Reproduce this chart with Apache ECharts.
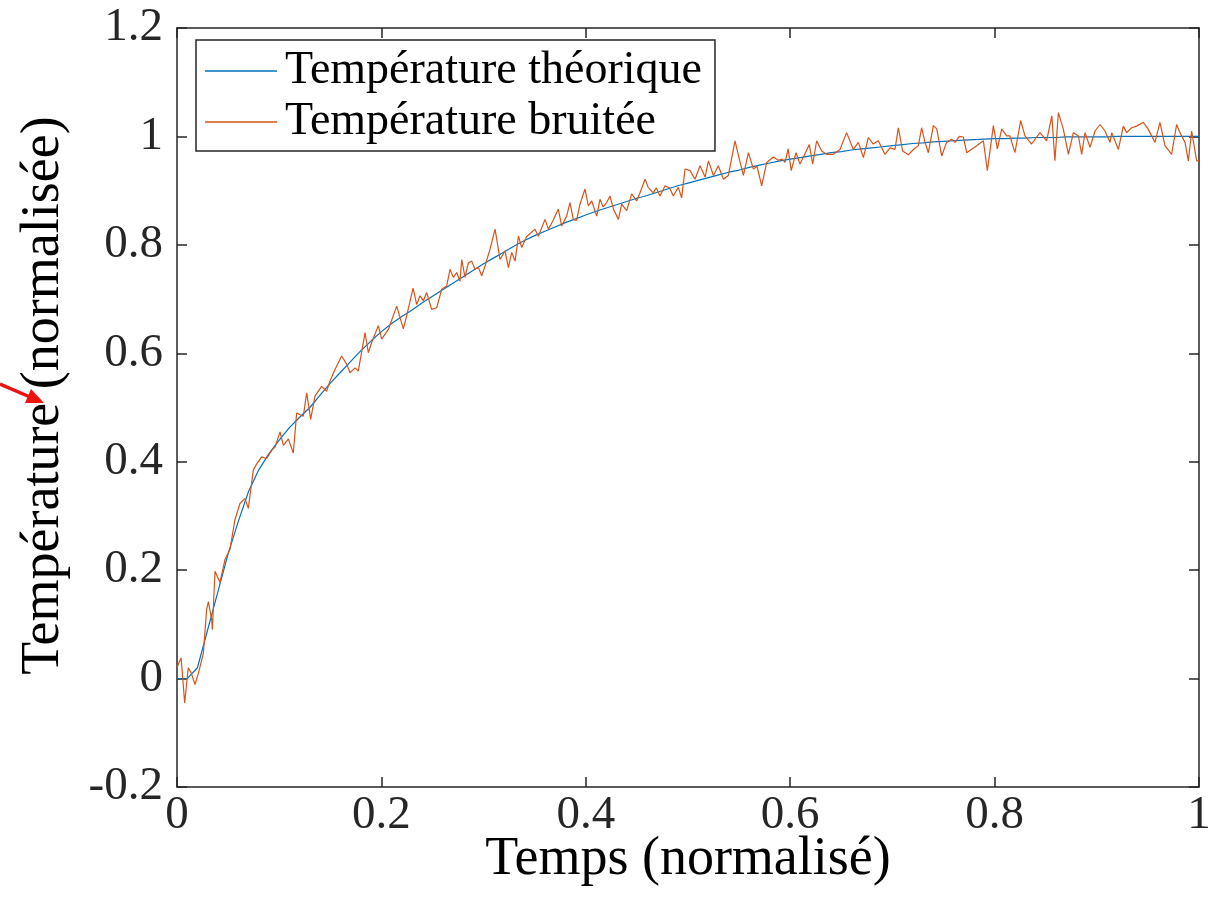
<!DOCTYPE html>
<html>
<head>
<meta charset="utf-8">
<script src="https://cdn.jsdelivr.net/npm/echarts@6/dist/echarts.min.js"></script>
<style>
html,body{margin:0;padding:0;background:#ffffff;}
#chart{width:1216px;height:914px;}
</style>
</head>
<body>
<div id="chart"></div>
<script>
// ---------- data ----------
const seriesNames = ['Température théorique', 'Température bruitée'];
const xAxisTitle = 'Temps (normalisé)';
const yAxisTitle = 'Température (normalisée)';
const xTickLabels = ['0', '0.2', '0.4', '0.6', '0.8', '1'];
const yTickLabels = ['-0.2', '0', '0.2', '0.4', '0.6', '0.8', '1', '1.2'];

const theoryTime = [0,0.01,0.02,0.03,0.04,0.05,0.06,0.07,0.08,0.09,0.10,0.11,0.12,0.13,0.14,0.15,0.16,0.17,0.18,0.19,0.20,
  0.21,0.22,0.23,0.24,0.25,0.26,0.27,0.28,0.29,0.30,0.31,0.32,0.33,0.34,0.35,0.36,0.37,0.38,0.39,0.40,
  0.41,0.42,0.43,0.44,0.45,0.46,0.47,0.48,0.49,0.50,0.51,0.52,0.53,0.54,0.55,0.56,0.57,0.58,0.59,0.60,
  0.61,0.62,0.63,0.64,0.65,0.66,0.67,0.68,0.69,0.70,0.71,0.72,0.73,0.74,0.75,0.76,0.77,0.78,0.79,0.80,
  0.81,0.82,0.83,0.84,0.85,0.86,0.87,0.88,0.89,0.90,0.91,0.92,0.93,0.94,0.95,0.96,0.97,0.98,0.99,1.00];
const theoryTemp = [0,0,0.02,0.09,0.16,0.23,0.29,0.345,0.385,0.415,0.44,0.463,0.482,0.50,0.523,0.545,0.565,0.585,0.605,0.623,0.64,
  0.655,0.668,0.68,0.693,0.705,0.717,0.729,0.741,0.753,0.765,0.776,0.787,0.798,0.808,0.817,0.825,0.833,0.841,0.848,0.855,
  0.862,0.868,0.874,0.880,0.886,0.891,0.897,0.903,0.909,0.914,0.919,0.924,0.929,0.934,0.938,0.943,0.947,0.951,0.955,0.958,
  0.961,0.964,0.967,0.970,0.972,0.975,0.977,0.979,0.981,0.983,0.985,0.987,0.988,0.990,0.991,0.992,0.993,0.994,0.995,0.996,
  0.996,0.997,0.997,0.998,0.998,0.998,0.999,0.999,0.999,0.999,0.999,1.0,1.0,1.0,1.0,1.0,1.0,1.0,1.0,1.0];

const noisyTime = [0,0.002,0.004,0.0075,0.011,0.014,0.0176,0.021,0.0258,0.029,0.0307,0.034,0.0346,0.0372,0.042,0.047,0.0518,0.0567,0.0616,0.0665,
  0.0698,0.0747,0.078,0.0828,0.0877,0.0926,0.0959,0.1008,0.1041,0.109,0.1138,0.1171,0.1236,0.1269,0.1308,0.135,0.1415,0.1464,0.1497,0.1546,
  0.1611,0.166,0.1693,0.1742,0.1774,0.184,0.1872,0.1905,0.197,0.2003,0.2068,0.215,0.2215,0.2247,0.231,0.2345,0.2378,0.241,0.2443,0.2492,
  0.2541,0.259,0.2639,0.2671,0.2704,0.2737,0.2769,0.2786,0.2818,0.2851,0.2884,0.2916,0.2949,0.2982,0.3014,0.3063,0.3112,0.3161,0.321,0.3243,
  0.3275,0.3308,0.3341,0.3373,0.342,0.3503,0.3536,0.3601,0.3634,0.368,0.3731,0.3764,0.3813,0.3845,0.3878,0.391,0.3943,0.3992,0.4025,0.4058,
  0.4107,0.4139,0.417,0.4204,0.4237,0.427,0.4319,0.4351,0.44,0.4449,0.4498,0.453,0.458,0.461,0.466,0.469,0.4726,0.4775,0.482,0.4856,
  0.4905,0.4938,0.4971,0.502,0.5069,0.5118,0.5167,0.52,0.5249,0.5297,0.5346,0.5395,0.546,0.551,0.5542,0.5591,0.564,0.5675,0.5721,0.577,
  0.5835,0.5884,0.592,0.595,0.598,0.601,0.6057,0.6096,0.6145,0.6187,0.622,0.6259,0.6308,0.6357,0.6422,0.6487,0.6552,0.6618,0.6667,0.6716,
  0.6765,0.6813,0.6862,0.6927,0.6976,0.7025,0.7058,0.71,0.7156,0.72,0.7254,0.7286,0.7319,0.7352,0.7401,0.7434,0.7482,0.753,0.758,0.7613,
  0.7655,0.7694,0.7727,0.7825,0.789,0.7929,0.7988,0.8027,0.807,0.8118,0.815,0.8199,0.8255,0.8297,0.8362,0.8444,0.8509,0.856,0.859,0.8624,
  0.8673,0.8722,0.8771,0.882,0.8852,0.8885,0.8934,0.8983,0.9032,0.908,0.913,0.9146,0.9211,0.926,0.9292,0.9341,0.939,0.9455,0.9504,0.9569,
  0.9618,0.9667,0.9732,0.9781,0.9814,0.9863,0.9896,0.9928,0.9977,1.0];
const noisyTemp = [0.02,0.03,0.038,-0.045,0.02,0.01,-0.011,0.01,0.047,0.127,0.142,0.108,0.09,0.198,0.177,0.22,0.238,0.293,0.323,0.332,
  0.314,0.385,0.396,0.409,0.406,0.421,0.427,0.455,0.43,0.442,0.416,0.49,0.484,0.527,0.478,0.521,0.539,0.530,0.549,0.570,
  0.595,0.580,0.564,0.573,0.567,0.638,0.601,0.620,0.651,0.626,0.644,0.687,0.645,0.669,0.72,0.690,0.706,0.697,0.712,0.681,
  0.684,0.718,0.724,0.755,0.740,0.749,0.733,0.773,0.740,0.767,0.770,0.755,0.758,0.743,0.761,0.792,0.829,0.773,0.789,0.758,
  0.786,0.770,0.816,0.795,0.815,0.829,0.816,0.847,0.829,0.845,0.866,0.835,0.853,0.878,0.847,0.845,0.875,0.903,0.872,0.881,
  0.853,0.884,0.870,0.878,0.890,0.866,0.847,0.875,0.863,0.894,0.881,0.896,0.921,0.906,0.896,0.905,0.890,0.909,0.905,0.890,
  0.906,0.887,0.940,0.937,0.921,0.946,0.925,0.955,0.928,0.946,0.921,0.928,0.992,0.952,0.928,0.970,0.940,0.945,0.909,0.952,
  0.962,0.956,0.958,0.952,0.977,0.937,0.970,0.949,0.968,0.985,0.949,0.992,0.973,0.967,0.967,0.976,1.007,0.976,0.989,0.961,
  0.998,0.986,0.992,0.967,0.979,0.976,1.016,0.973,0.966,0.975,0.983,1.016,0.989,0.970,1.020,1.014,0.964,0.989,0.995,0.989,
  1.0,0.999,0.970,0.983,0.992,0.937,1.020,0.977,1.014,1.001,1.001,0.970,1.029,1.001,0.986,1.007,0.992,1.038,0.955,1.044,
  1.013,0.967,1.007,1.001,0.967,1.007,0.980,1.010,1.022,1.010,0.989,1.007,0.976,1.019,1.007,1.016,1.019,1.026,1.013,0.989,
  1.026,0.983,0.967,1.022,1.007,0.989,0.955,1.010,0.955,0.955];

// ---------- chart ----------
const theoryData = theoryTime.map((t, i) => [t, theoryTemp[i]]);
const noisyData = noisyTime.map((t, i) => [t, noisyTemp[i]]);

const FONT = '"Liberation Serif", "DejaVu Serif", serif';
const AXIS_COLOR = '#262626';
const X_MIN = 0, X_MAX = 1, X_STEP = 0.2;
const Y_MIN = -0.2, Y_MAX = 1.2, Y_STEP = 0.2;

function xLabel(v) { return xTickLabels[Math.round((v - X_MIN) / X_STEP)]; }
function yLabel(v) { return yTickLabels[Math.round((v - Y_MIN) / Y_STEP)]; }

const axisLine = { show: true, onZero: false, lineStyle: { color: AXIS_COLOR, width: 1.5 } };
const axisTick = { show: true, inside: true, length: 10, lineStyle: { color: AXIS_COLOR, width: 1.5 } };

const chart = echarts.init(document.getElementById('chart'), null, { renderer: 'canvas' });
chart.setOption({
  backgroundColor: '#ffffff',
  animation: false,
  grid: { left: 177, right: 17, top: 28, bottom: 127, containLabel: false },
  legend: {
    data: seriesNames,
    orient: 'vertical',
    left: 196,
    top: 40,
    icon: 'rect',
    itemWidth: 72,
    itemHeight: 1.5,
    itemGap: 5,
    padding: [8, 13, 6, 9],
    backgroundColor: '#ffffff',
    borderColor: AXIS_COLOR,
    borderWidth: 1.5,
    borderRadius: 0,
    textStyle: { fontFamily: FONT, fontSize: 46, color: '#000000', padding: [0, 0, 0, 3] }
  },
  xAxis: [
    {
      type: 'value', min: X_MIN, max: X_MAX, interval: X_STEP, position: 'bottom',
      name: xAxisTitle, nameLocation: 'middle', nameGap: 46, nameMoveOverlap: false,
      nameTextStyle: { fontFamily: FONT, fontSize: 54, color: '#000000' },
      axisLine: axisLine, axisTick: axisTick,
      axisLabel: { fontFamily: FONT, fontSize: 47, color: '#262626', margin: 5, formatter: xLabel },
      splitLine: { show: false }
    },
    {
      type: 'value', min: X_MIN, max: X_MAX, interval: X_STEP, position: 'top',
      axisLine: axisLine, axisTick: axisTick, axisLabel: { show: false }, splitLine: { show: false }
    }
  ],
  yAxis: [
    {
      type: 'value', min: Y_MIN, max: Y_MAX, interval: Y_STEP, position: 'left',
      name: yAxisTitle, nameLocation: 'middle', nameGap: 106, nameRotate: 90,
      nameTextStyle: { fontFamily: FONT, fontSize: 54, color: '#000000', padding: [0, 0, 0, 24] },
      axisLine: axisLine, axisTick: axisTick,
      axisLabel: { fontFamily: FONT, fontSize: 47, color: '#262626', margin: 14, formatter: yLabel },
      splitLine: { show: false }
    },
    {
      type: 'value', min: Y_MIN, max: Y_MAX, interval: Y_STEP, position: 'right',
      axisLine: axisLine, axisTick: axisTick, axisLabel: { show: false }, splitLine: { show: false }
    }
  ],
  series: [
    {
      name: seriesNames[0], type: 'line', data: theoryData,
      symbol: 'none', smooth: false,
      lineStyle: { color: '#0072BD', width: 1.2 }, itemStyle: { color: '#0072BD' }
    },
    {
      name: seriesNames[1], type: 'line', data: noisyData,
      symbol: 'none', smooth: false,
      lineStyle: { color: '#D95319', width: 1.2 }, itemStyle: { color: '#D95319' }
    }
  ],
  graphic: [
    { type: 'line', shape: { x1: 0, y1: 384, x2: 30, y2: 397 }, style: { stroke: '#ee1111', lineWidth: 3.5 }, silent: true },
    { type: 'polygon', shape: { points: [[44, 403], [25, 403], [31, 389]] }, style: { fill: '#ee1111' }, silent: true }
  ]
});
</script>
</body>
</html>
